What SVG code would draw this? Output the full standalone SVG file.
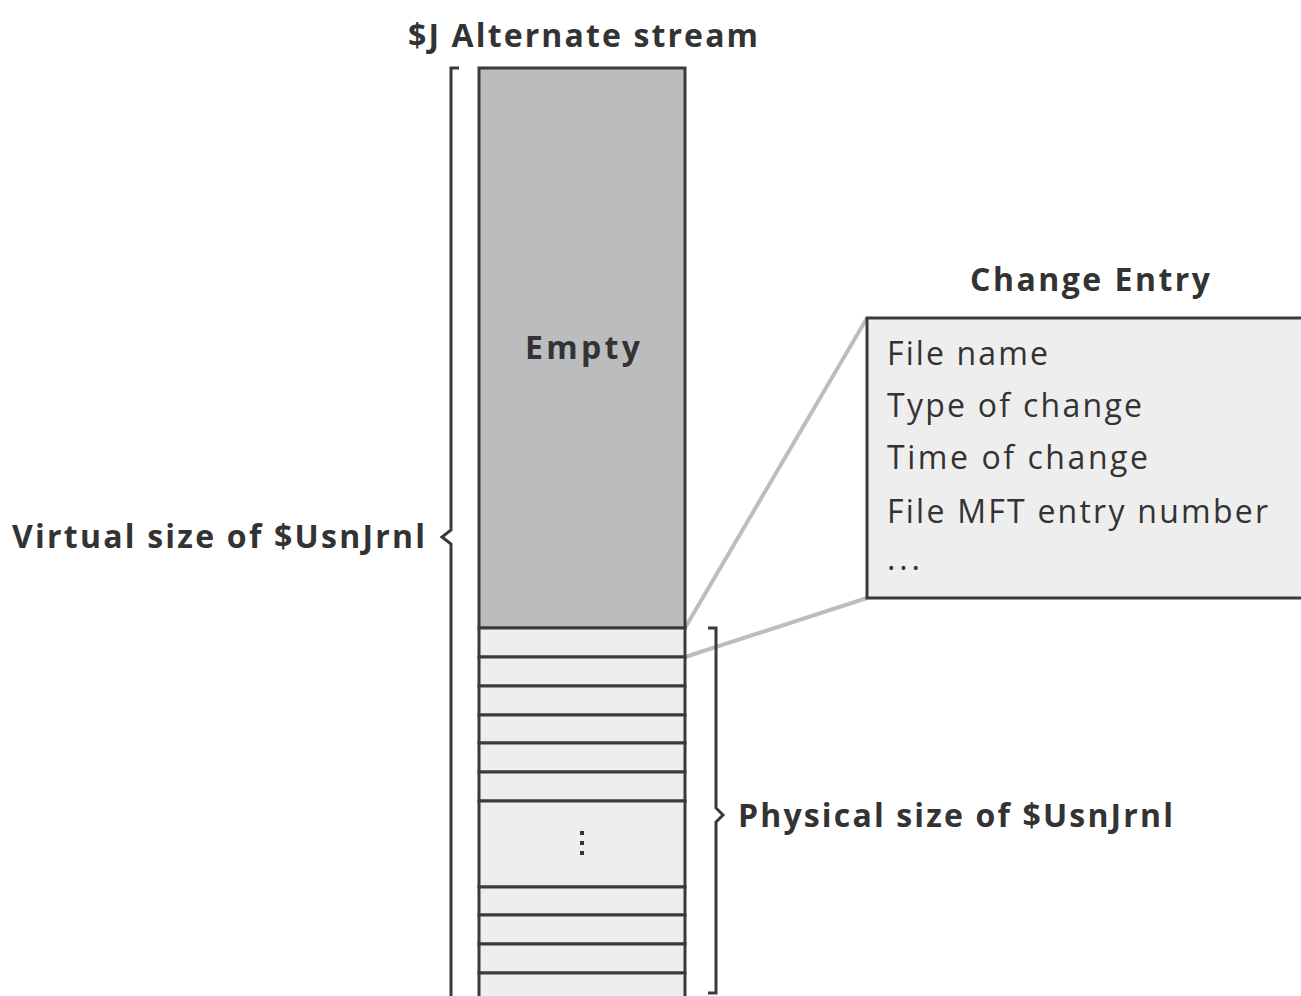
<svg xmlns="http://www.w3.org/2000/svg" width="1301" height="996" viewBox="0 0 1301 996">
<style>
.t{font-family:"Open Sans","Liberation Sans",sans-serif;fill:#333}
.b{font-weight:bold}
.st{stroke:#3a3a3a;stroke-width:3;fill:none}
.row{fill:#eeeeee;stroke:#3a3a3a;stroke-width:3}
.lead{stroke:#bdbdbd;stroke-width:4;fill:none}
</style>
<rect width="1301" height="996" fill="#fff"/>
<g id="connectors">
<line class="lead" x1="685" y1="628" x2="867" y2="318"/>
<line class="lead" x1="685" y1="657" x2="867" y2="598"/>
</g>
<g id="stream">
<text class="t b" x="408" y="47" font-size="32" textLength="350" lengthAdjust="spacing">$J Alternate stream</text>
<rect x="479" y="68" width="206" height="560" fill="#bbbcbe" stroke="#3a3a3a" stroke-width="3"/>
<text class="t b" x="525" y="359" font-size="32" textLength="115" lengthAdjust="spacing">Empty</text>
<rect class="row" x="479" y="628" width="206" height="29"/>
<rect class="row" x="479" y="657" width="206" height="29"/>
<rect class="row" x="479" y="686" width="206" height="29"/>
<rect class="row" x="479" y="715" width="206" height="28"/>
<rect class="row" x="479" y="743" width="206" height="29"/>
<rect class="row" x="479" y="772" width="206" height="29"/>
<rect class="row" x="479" y="801" width="206" height="86"/>
<rect class="row" x="479" y="887" width="206" height="28"/>
<rect class="row" x="479" y="915" width="206" height="29"/>
<rect class="row" x="479" y="944" width="206" height="29"/>
<rect class="row" x="479" y="973" width="206" height="40"/>
<g fill="#333"><rect x="580" y="831" width="4" height="4"/><rect x="580" y="841" width="4" height="4"/><rect x="580" y="851" width="4" height="4"/></g>
</g>
<g id="virtual-brace">
<path class="st" d="M459,68 H451 V530 L442,537 L451,544 V1000"/>
<text class="t b" x="12" y="548" font-size="32" textLength="413" lengthAdjust="spacing">Virtual size of $UsnJrnl</text>
</g>
<g id="physical-brace">
<path class="st" d="M708,628 H716 V808 L723,815 L716,822 V993 H708"/>
<text class="t b" x="738" y="827" font-size="32" textLength="435" lengthAdjust="spacing">Physical size of $UsnJrnl</text>
</g>
<g id="change-entry">
<text class="t b" x="970" y="291" font-size="32" textLength="240" lengthAdjust="spacing">Change Entry</text>
<rect x="867" y="318" width="440" height="280" fill="#eeeeee" stroke="#3a3a3a" stroke-width="3"/>
<text class="t" x="887" y="365" font-size="32" textLength="161" lengthAdjust="spacing">File name</text>
<text class="t" x="887" y="417" font-size="32" textLength="255" lengthAdjust="spacing">Type of change</text>
<text class="t" x="887" y="469" font-size="32" textLength="261" lengthAdjust="spacing">Time of change</text>
<text class="t" x="887" y="523" font-size="32" textLength="381" lengthAdjust="spacing">File MFT entry number</text>
<text class="t" x="887" y="570" font-size="32" textLength="33" lengthAdjust="spacing">...</text>
</g>
</svg>
